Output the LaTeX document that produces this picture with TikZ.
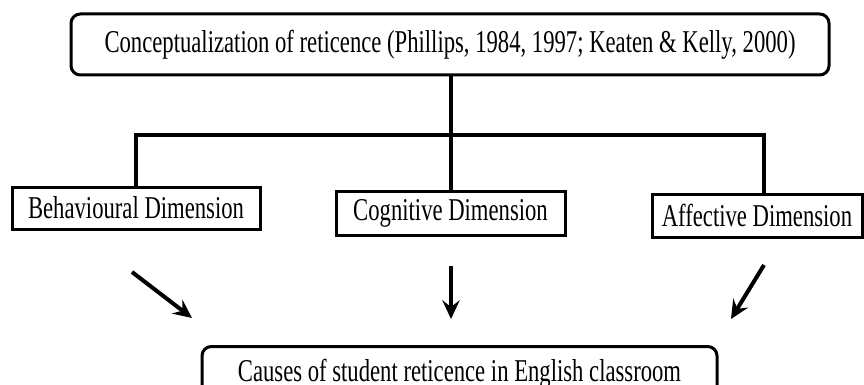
\documentclass[tikz,border=0pt]{standalone}
\usepackage{fontspec}
\usepackage{graphicx}
\setmainfont{Liberation Serif}
\usetikzlibrary{arrows.meta,calc}
\newcommand\talltext[1]{\scalebox{1}[1.4]{#1}}
\begin{document}
\begin{tikzpicture}[x=0.75pt,y=-0.75pt,
  box/.style={draw,line width=2.25pt,inner sep=0pt,font=\fontsize{17}{20}\selectfont},
  rbox/.style={box,rounded corners=7pt},
  conn/.style={line width=2.8pt},
  arr/.style={line width=3pt,-{Stealth[length=14pt,width=13pt,inset=5pt]}}]
\useasboundingbox (0,0) rectangle (864,385);
\node[rbox,minimum width=568.5pt,minimum height=45.75pt] (top) at (450,44.5)
  {\talltext{Conceptualization of reticence (Phillips, 1984, 1997; Keaten \& Kelly, 2000)}};
\node[box,minimum width=186pt,minimum height=31.5pt] (beh) at (136,208) {\talltext{Behavioural Dimension}};
\node[box,minimum width=171.75pt,minimum height=33pt] (cog) at (450.5,213) {\talltext{Cognitive Dimension}};
\node[box,minimum width=157.5pt,minimum height=32.25pt] (aff) at (757,215.5) {\talltext{Affective Dimension}};
\node[rbox,minimum width=386.25pt,minimum height=40.5pt,anchor=north] (res) at (459.5,345)
  {\raisebox{0pt}[12pt][0pt]{\talltext{Causes of student reticence in English classroom}}};
\coordinate (bus) at (451,135);
\coordinate (affin) at (764,0);
\draw[conn] (top.south -| bus) -- (bus);
\draw[conn] (beh.north) -- (beh.north |- bus) -- (affin |- bus) -- (affin |- aff.north);
\draw[conn] (bus) -- (bus |- cog.north);
\coordinate (a1s) at (132,272); \coordinate (a1e) at (192,318);
\coordinate (a2s) at (451,266); \coordinate (a2e) at (451,319);
\coordinate (a3s) at (764,265); \coordinate (a3e) at (731,319);
\draw[arr] (a1s) -- (a1e);
\draw[arr] (a2s) -- (a2e);
\draw[arr] (a3s) -- (a3e);
\end{tikzpicture}
\end{document}
